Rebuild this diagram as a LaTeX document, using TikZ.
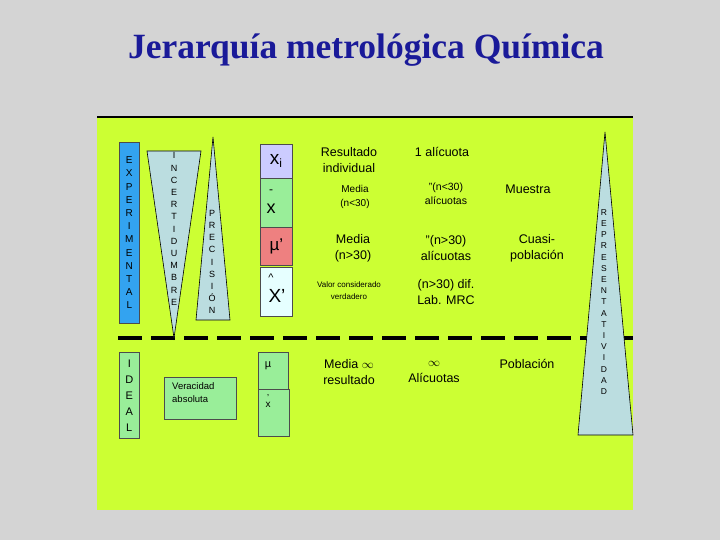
\documentclass[tikz,border=0pt]{standalone}
\usepackage{fontspec}
\setmainfont{Liberation Sans}
\newfontfamily\titlefont{Liberation Serif}
\begin{document}
\begin{tikzpicture}[x=1pt,y=-1pt,
  vtxt/.style={align=center,font=\fontsize{10}{13.2}\selectfont,inner sep=0},
  lbl/.style={align=center,font=\fontsize{12.5}{16}\selectfont,inner sep=0},
  sml/.style={align=center,font=\fontsize{9.5}{13}\selectfont,inner sep=0},
  bx/.style={draw=black!70,line width=0.6pt},
  tri/.style={draw=black,fill=triblue,line width=0.6pt}]
\definecolor{bg}{HTML}{D4D4D4}
\definecolor{panel}{HTML}{CCFF33}
\definecolor{triblue}{HTML}{BBDDE0}
\definecolor{expblue}{HTML}{33A3F0}
\definecolor{lgreen}{HTML}{99EE99}
\definecolor{lpurple}{HTML}{CCCCFF}
\definecolor{salmon}{HTML}{EE8080}
\definecolor{lcyan}{HTML}{E6FFFF}
\definecolor{tblue}{HTML}{1A1A99}
\fill[bg] (0,0) rectangle (720,540);
\useasboundingbox (0,0) rectangle (720,540);
\node (title) at (366,50) {\titlefont\bfseries\fontsize{35.5}{38}\selectfont\color{tblue}Jerarquía metrológica Química};
\fill[panel] (97,117) rectangle (633,510);
\draw[line width=1.5pt] (97,117) -- (633,117);
% dashed line
\coordinate (d1) at (118,338); \coordinate (d2) at (633,338);
\draw[line width=4.5pt,dash pattern=on 24pt off 9pt] (d1) -- (d2);
% left boxes
\node[bx,fill=expblue,minimum width=20,minimum height=181,anchor=north west] (exp) at (119,142) {};
\node[vtxt] at (exp.center) {E\\X\\P\\E\\R\\I\\M\\E\\N\\T\\A\\L};
\node[bx,fill=lgreen,minimum width=20,minimum height=86,anchor=north west] (ide) at (119,352) {};
\node[vtxt,font=\fontsize{11}{16}\selectfont] at (ide.center) {I\\D\\E\\A\\L};
% triangles
\draw[tri] (147,151) -- (201,151) -- (174,338) -- cycle;
\node[vtxt,font=\fontsize{9}{12.2}\selectfont] (inc) at (174,229) {I\\N\\C\\E\\R\\T\\I\\D\\U\\M\\B\\R\\E};
\draw[tri] (213,137) -- (230,320) -- (196,320) -- cycle;
\node[vtxt,font=\fontsize{9}{12.2}\selectfont] (pre) at (212,262) {P\\R\\E\\C\\I\\S\\I\\Ó\\N};
\draw[tri] (605,132) -- (633,435) -- (578,435) -- cycle;
\node[vtxt,font=\fontsize{8.5}{11.2}\selectfont] (rep) at (604,302) {R\\E\\P\\R\\E\\S\\E\\N\\T\\A\\T\\I\\V\\I\\D\\A\\D};
% veracidad
\node[bx,fill=lgreen,minimum width=72,minimum height=42,anchor=north west] (ver) at (164,377) {};
\node[sml,align=left,anchor=west] at (172,393) {Veracidad\\absoluta};
% right column
\node[bx,fill=lpurple,minimum width=32,minimum height=34,anchor=north west] (xi) at (260,144) {};
\node at (xi.center) {\fontsize{19}{19}\selectfont x\textsubscript{\fontsize{12}{12}\selectfont i}};
\node[bx,fill=lgreen,minimum width=32,minimum height=49,anchor=north west] (xb) at (260,178) {};
\node[inner sep=0] at (271,192) {\fontsize{12}{12}\selectfont -};
\node[inner sep=0] at (271,209) {\fontsize{18}{18}\selectfont x};
\node[bx,fill=salmon,minimum width=32,minimum height=38,anchor=north west] (mu) at (260,227) {};
\node at (mu.center) {\fontsize{17}{17}\selectfont µ’};
\node[bx,fill=lcyan,minimum width=32,minimum height=49,anchor=north west] (xh) at (260,267) {};
\node[inner sep=0] at (271,278) {\fontsize{11}{11}\selectfont \^{}};
\node[inner sep=0] at (277,296) {\fontsize{19}{19}\selectfont X’};
\node[bx,fill=lgreen,minimum width=30,minimum height=37,anchor=north west] (mu2) at (258,352) {};
\node[inner sep=0] at (268,366) {\fontsize{11}{11}\selectfont µ};
\node[bx,fill=lgreen,minimum width=31,minimum height=47,anchor=north west] (xd) at (258,389) {};
\node[inner sep=0,align=center] at (268,401) {\fontsize{9}{6}\selectfont ,\\x};
% texts
\node[lbl] (t1) at (349,160) {Resultado\\individual};
\node[lbl] (t2) at (442,152) {1 alícuota};
\node[sml,font=\fontsize{10}{14}\selectfont] (t3) at (355,197) {Media\\(n<30)};
\node[sml,font=\fontsize{10.5}{14}\selectfont] (t4) at (446,194) {"(n<30)\\alícuotas};
\node[lbl] (t5) at (528,189) {Muestra};
\node[lbl] (t6) at (353,248) {Media\\(n>30)};
\node[lbl] (t7) at (446,248) {"(n>30)\\alícuotas};
\node[lbl] (t8) at (537,248) {Cuasi-\\población};
\node[sml,font=\fontsize{8}{12}\selectfont] (t9) at (349,291) {Valor considerado\\verdadero};
\node[lbl] (t10) at (446,292) {(n>30) dif.\\Lab. MRC};
\node[lbl] (t11) at (349,372) {Media $\infty$\\resultado};
\node[lbl] (t12) at (434,372) {$\infty$\\Alícuotas};
\node[lbl] (t13) at (527,364) {Población};
\end{tikzpicture}
\end{document}
